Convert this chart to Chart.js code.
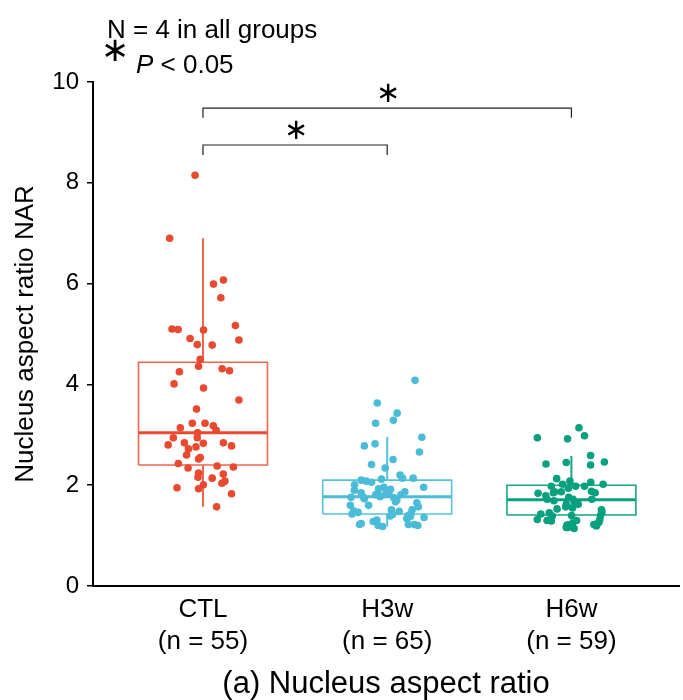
<!DOCTYPE html>
<html><head><meta charset="utf-8">
<script src="https://cdn.jsdelivr.net/npm/chart.js@4.4.0/dist/chart.umd.min.js"></script>
<style>html,body{margin:0;padding:0;background:#fff;} #wrap{width:683px;height:700px;}</style>
</head><body><div id="wrap"><canvas id="c" width="683" height="700"></canvas></div>
<script>
const categories = ['CTL', 'H3w', 'H6w'];
const groupN = ['(n = 55)', '(n = 65)', '(n = 59)'];
const yTicks = [0, 2, 4, 6, 8, 10];
const headerLine1 = 'N = 4 in all groups';
const starGlyph = '\u2217';
const pLabel = '< 0.05';
const yTitle = 'Nucleus aspect ratio NAR';
const xTitle = '(a) Nucleus aspect ratio';

const boxMin    = [1.57, 1.18, 1.14];
const boxQ1     = [2.40, 1.43, 1.41];
const boxMedian = [3.04, 1.77, 1.71];
const boxQ3     = [4.44, 2.10, 2.00];
const boxMax    = [6.90, 2.96, 2.58];

const ctlValues = [4.50,4.36,4.25,4.31,4.27,4.01,3.93,3.69,3.51,3.14,3.23,3.23,3.18,3.09,3.04,2.94,2.94,2.84,2.80,2.83,2.76,2.72,2.84,2.78,2.60,2.52,2.55,2.43,2.34,2.38,2.36,2.24,2.16,2.22,2.14,2.08,2.04,2.01,1.95,1.93,1.83,1.57,8.15,6.90,6.07,5.99,5.72,5.10,5.09,5.08,5.17,4.91,4.88,4.79,4.78];
const ctlJitter = [-0.015,-0.024,-0.128,0.104,0.144,-0.157,0.003,0.195,-0.035,-0.123,-0.058,0.011,0.056,0.072,-0.029,-0.161,-0.031,-0.101,-0.189,0.002,-0.038,-0.079,0.111,0.155,-0.089,-0.024,-0.015,-0.134,-0.081,0.077,0.165,-0.024,-0.027,0.110,0.050,0.119,0.103,0.002,-0.141,-0.024,0.155,0.074,-0.043,-0.181,0.111,0.057,0.097,-0.168,-0.135,0.003,0.176,-0.070,0.195,-0.031,0.050];

const h3wValues = [4.08,3.63,3.43,3.23,3.29,2.95,2.78,2.82,2.66,2.51,2.41,2.34,2.20,2.14,2.14,2.10,2.08,2.06,2.12,2.01,1.90,1.93,1.96,1.92,1.96,1.85,1.84,1.83,1.87,1.81,1.76,1.76,1.81,1.80,1.75,1.70,1.67,1.65,1.60,1.60,1.57,1.49,1.46,1.43,1.51,1.48,1.51,1.39,1.42,1.40,1.43,1.34,1.36,1.28,1.31,1.22,1.24,1.20,1.18,1.22,1.22,1.20,1.77,1.38,1.73];
const h3wJitter = [0.151,-0.054,0.054,-0.063,0.034,0.188,-0.124,-0.066,0.175,0.032,-0.085,-0.011,0.070,0.083,0.141,-0.141,-0.114,-0.085,-0.031,-0.177,-0.178,-0.047,-0.018,0.018,0.198,-0.141,-0.007,0.009,0.096,0.074,-0.196,-0.128,-0.063,-0.045,0.036,0.052,0.045,0.161,-0.200,-0.101,0.169,-0.182,-0.158,-0.191,0.023,0.065,0.135,0.016,0.029,0.114,0.128,0.106,0.200,-0.076,-0.056,-0.150,-0.141,-0.049,-0.025,0.115,0.148,0.166,-0.039,0.126,-0.124];

const h6wValues = [3.14,2.94,2.92,2.98,2.59,2.42,2.45,2.40,2.46,2.13,1.98,2.02,2.08,1.98,1.98,2.06,2.02,1.94,1.87,1.84,1.79,1.85,1.87,1.88,1.85,1.72,1.69,1.76,1.72,1.72,1.67,1.62,1.62,1.57,1.55,1.53,1.51,1.43,1.45,1.39,1.40,1.40,1.32,1.30,1.29,1.32,1.30,1.22,1.27,1.16,1.16,1.14,1.22,1.19,1.24,1.24,1.21,1.21,1.47];
const h6wJitter = [0.041,-0.185,-0.021,0.071,0.104,-0.138,-0.028,0.104,0.179,-0.080,-0.109,-0.048,-0.008,0.023,0.071,0.105,0.172,-0.017,-0.055,-0.181,-0.139,-0.098,-0.091,0.109,0.129,-0.132,-0.095,-0.015,0.008,0.111,0.015,0.037,-0.028,-0.031,0.006,-0.078,0.163,-0.166,-0.120,-0.104,0.001,0.158,-0.185,-0.132,-0.109,0.154,0.028,-0.006,0.150,-0.019,-0.028,0.015,0.122,0.136,0.142,0.006,-0.024,0.129,0.166];

const bracketFrom  = [0, 0];
const bracketTo    = [1, 2];
const bracketLevel = [8.75, 9.48];
const bracketDrop  = [0.20, 0.19];

const pointColors = ['#E8492F', '#4BBCD7', '#08A07F'];
const boxColors   = ['#EE6650', '#55C2DB', '#16A585'];
const FONT = '"Liberation Sans", Arial, Helvetica, sans-serif';
const STAR_FONT = '"DejaVu Sans", sans-serif';
const BOX_HALF = 0.35;

const groupValues = [ctlValues, h3wValues, h6wValues];
const groupJitter = [ctlJitter, h3wJitter, h6wJitter];

const datasets = [];
groupValues.forEach((vals, g) => {
  datasets.push({
    label: categories[g] + ' points',
    data: vals.map((v, i) => ({x: g + 1 + groupJitter[g][i], y: v})),
    backgroundColor: pointColors[g], borderWidth: 0, pointRadius: 3.8, order: 0
  });
});
categories.forEach((c, g) => {
  const cx = g + 1;
  const line = (pts, w, col) => ({
    label: c + ' box', data: pts, showLine: true, borderColor: col, borderWidth: w,
    pointRadius: 0, tension: 0, fill: false, order: 1
  });
  datasets.push(line([{x:cx-BOX_HALF,y:boxQ1[g]},{x:cx+BOX_HALF,y:boxQ1[g]},{x:cx+BOX_HALF,y:boxQ3[g]},{x:cx-BOX_HALF,y:boxQ3[g]},{x:cx-BOX_HALF,y:boxQ1[g]}], 1.6, boxColors[g]));
  datasets.push(line([{x:cx-BOX_HALF,y:boxMedian[g]},{x:cx+BOX_HALF,y:boxMedian[g]}], 3, pointColors[g]));
  datasets.push(line([{x:cx,y:boxQ3[g]},{x:cx,y:boxMax[g]}], 2, boxColors[g]));
  datasets.push(line([{x:cx,y:boxQ1[g]},{x:cx,y:boxMin[g]}], 2, boxColors[g]));
});
bracketLevel.forEach((lv, b) => {
  const a = bracketFrom[b] + 1, z = bracketTo[b] + 1, d = bracketDrop[b];
  datasets.push({
    label: 'bracket', data: [{x:a,y:lv-d},{x:a,y:lv},{x:z,y:lv},{x:z,y:lv-d}],
    showLine: true, borderColor: '#222', borderWidth: 1.2, pointRadius: 0, tension: 0, order: 2
  });
});

const annotPlugin = {
  id: 'annot',
  afterDraw(chart) {
    const {ctx, scales: {x, y}} = chart;
    ctx.save();
    ctx.fillStyle = '#000';
    ctx.textAlign = 'left';
    ctx.textBaseline = 'middle';
    ctx.font = '26px ' + FONT;
    ctx.fillText(headerLine1, 107, 31);
    ctx.font = 'italic 26px ' + FONT;
    ctx.fillText('P', 136, 66);
    const pw = ctx.measureText('P').width;
    ctx.font = '26px ' + FONT;
    ctx.fillText(' ' + pLabel, 136 + pw, 66);
    ctx.textAlign = 'center';
    ctx.textBaseline = 'alphabetic';
    ctx.font = '34px ' + STAR_FONT;
    ctx.fillText(starGlyph, 115, 51 + 0.3 * 34);
    ctx.font = '29px ' + STAR_FONT;
    bracketLevel.forEach((lv, b) => {
      const px = x.getPixelForValue((bracketFrom[b] + bracketTo[b]) / 2 + 1);
      const py = y.getPixelForValue(lv);
      ctx.fillText(starGlyph, px + 1, py - 15 + 0.3 * 29);
    });
    ctx.restore();
  }
};

new Chart(document.getElementById('c'), {
  type: 'scatter',
  data: {datasets},
  options: {
    responsive: false, animation: false,
    layout: {padding: {top: 82, right: 0, bottom: 0, left: 0}},
    plugins: {legend: {display: false}, tooltip: {enabled: false}},
    scales: {
      x: {
        type: 'linear', min: 0.403, max: 3.584,
        afterBuildTicks: s => { s.ticks = categories.map((c, i) => ({value: i + 1})); },
        afterFit: s => { s.height = 114; },
        ticks: {
          autoSkip: false, maxRotation: 0, padding: 8, color: '#000',
          font: {family: FONT, size: 26, lineHeight: 1.23},
          callback: (v, i) => [categories[i], groupN[i]]
        },
        grid: {display: false, drawTicks: false},
        border: {display: true, color: '#000', width: 2},
        title: {display: true, text: xTitle, color: '#000', font: {family: FONT, size: 31, lineHeight: 1.0}, padding: {top: 0, bottom: 0}}
      },
      y: {
        min: 0, max: 10,
        afterBuildTicks: s => { s.ticks = yTicks.map(v => ({value: v})); },
        afterFit: s => { s.width = 93; },
        ticks: {padding: 8, color: '#000', font: {family: FONT, size: 24}},
        grid: {drawOnChartArea: false, drawTicks: true, tickLength: 6, color: '#000', lineWidth: 1.5},
        border: {display: true, color: '#000', width: 2},
        title: {display: true, text: yTitle, color: '#000', font: {family: FONT, size: 26}, padding: {top: 10, bottom: 0}}
      }
    }
  },
  plugins: [annotPlugin]
});
</script>
</body></html>
